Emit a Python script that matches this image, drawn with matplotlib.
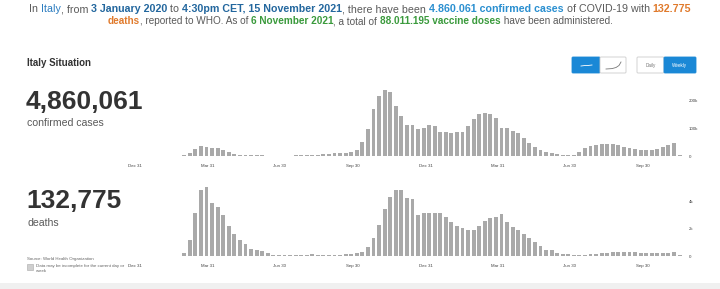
import matplotlib
matplotlib.use("Agg")
import matplotlib.pyplot as plt
import matplotlib.dates as mdates
import pandas as pd
from matplotlib.patches import FancyBboxPatch, Rectangle

plt.rcParams["font.family"] = ["Liberation Sans", "DejaVu Sans"]

# weekly series (WHO, Italy), first week starting 2 March 2020
first_week = "2020-03-02"
cases = [
    2000, 12000, 25000, 36000, 33000, 30000, 27000, 22000, 14000, 8000,
    5000, 4000, 3000, 2500, 2000, 1500, 1500, 1500, 1500, 1500,
    2000, 2000, 2500, 3000, 4500, 6000, 8000, 9000, 10000, 11000,
    14000, 22000, 50000, 97000, 168000, 216000, 236000, 230000, 179000, 142000,
    111000, 110000, 97000, 101000, 110000, 106000, 84000, 85000, 82000, 85000,
    86000, 108000, 133000, 151000, 152000, 150000, 134000, 101000, 100000, 88000,
    81000, 63000, 48000, 33000, 22000, 14000, 10000, 6000, 4000, 4000,
    5000, 13000, 27000, 36000, 40000, 42000, 42000, 42000, 38000, 32000,
    27000, 24000, 21000, 20000, 21000, 26000, 32000, 40000, 47000, 2000,
]
deaths = [
    200, 1200, 3200, 4900, 5100, 3900, 3600, 3000, 2200, 1600,
    1200, 860, 500, 420, 370, 200, 100, 70, 60, 50,
    50, 50, 60, 150, 60, 60, 70, 80, 100, 120,
    150, 200, 310, 690, 1300, 2300, 3500, 4350, 4900, 4900,
    4300, 4200, 3000, 3200, 3200, 3200, 3150, 2900, 2550, 2200,
    2050, 1900, 1900, 2200, 2600, 2800, 2900, 3100, 2500, 2150,
    1900, 1600, 1350, 1050, 740, 450, 450, 200, 150, 120,
    100, 100, 100, 120, 150, 220, 250, 260, 300, 300,
    290, 270, 230, 220, 220, 230, 240, 250, 300, 50,
]
tick_dates = ["2019-12-31", "2020-03-31", "2020-06-30", "2020-09-30",
              "2020-12-31", "2021-03-31", "2021-06-30", "2021-09-30"]
tick_labels = ["Dec 31", "Mar 31", "Jun 30", "Sep 30"] * 2
cases_ticks = [0, 100000, 200000]
cases_tick_labels = ["0", "100k", "200k"]
deaths_ticks = [0, 2000, 4000]
deaths_tick_labels = ["0", "2k", "4k"]
total_cases = "4,860,061"
total_deaths = "132,775"

GRAY = "#5a5a5a"
DARK = "#333333"
BLUE = "#2a8fd0"
NAVY = "#23679e"
ORANGE = "#e07a2c"
GREEN = "#3a9a3c"
BTN = "#1a88d6"
BAR = "#a9a9a9"

line1 = [
    ("In ", GRAY, "normal"), ("Italy", "#2b7cc0", "normal"), (", from ", GRAY, "normal"),
    ("3 January 2020", NAVY, "bold"), (" to ", GRAY, "normal"),
    ("4:30pm CET, 15 November 2021", NAVY, "bold"), (", there have been ", GRAY, "normal"),
    ("4.860.061 confirmed cases", BLUE, "bold"), (" of COVID-19 with ", GRAY, "normal"),
    ("132.775", ORANGE, "bold"),
]
line2 = [
    ("deaths", ORANGE, "bold"), (", reported to WHO. As of ", GRAY, "normal"),
    ("6 November 2021", GREEN, "bold"), (", a total of ", GRAY, "normal"),
    ("88.011.195 vaccine doses", GREEN, "bold"), (" have been administered.", GRAY, "normal"),
]

W, H = 720, 289
fig = plt.figure(figsize=(W / 100, H / 100), dpi=100)
fig.patch.set_facecolor("white")

# overlay in pixel coordinates for the page furniture
ov = fig.add_axes([0, 0, 1, 1])
ov.set_xlim(0, W)
ov.set_ylim(H, 0)
ov.axis("off")
renderer = fig.canvas.get_renderer()


def seg_width(s, size, weight):
    t1 = ov.text(0, 0, s + "|", fontsize=size, fontweight=weight)
    t2 = ov.text(0, 0, "|", fontsize=size, fontweight=weight)
    w = t1.get_window_extent(renderer).width - t2.get_window_extent(renderer).width
    t1.remove()
    t2.remove()
    return w


def rich_line(segs, y, target):
    base = 10
    size = base * target / sum(seg_width(s, base, wt) for s, _, wt in segs)
    widths = [seg_width(s, size, wt) for s, _, wt in segs]
    x = W / 2 - sum(widths) / 2
    for (s, c, wt), w in zip(segs, widths):
        ov.text(x, y, s, fontsize=size, fontweight=wt, color=c, va="center", ha="left")
        x += w


rich_line(line1, 9, 660)
rich_line(line2, 21, 510)

ov.text(27, 63, "Italy Situation", fontsize=7, fontweight="bold", color=DARK, va="center")
ov.text(26, 102, total_cases, fontsize=19, fontweight="bold", color=DARK, va="center")
ov.text(27, 123, "confirmed cases", fontsize=7.6, color=GRAY, va="center")
ov.text(26, 201, total_deaths, fontsize=19, fontweight="bold", color=DARK, va="center")
ov.text(27, 223, "deaths", fontsize=7.6, color=GRAY, va="center")
ov.text(27, 259, "Source: World Health Organization", fontsize=3.2, color="#666666", va="center")
ov.add_patch(Rectangle((27, 264), 6, 6, facecolor="#cfcfcf", edgecolor="#aaaaaa", lw=0.4))
ov.text(36, 266, "Data may be incomplete for the current day or", fontsize=3.2, color="#666666", va="center")
ov.text(36, 271, "week", fontsize=3.2, color="#666666", va="center")

# toggle buttons
for x0, x1, filled in [(572, 600, True), (600, 626, False), (637, 664, False), (664, 696, True)]:
    ov.add_patch(FancyBboxPatch((x0, 57), x1 - x0, 16, boxstyle="round,pad=0,rounding_size=1",
                                facecolor=BTN if filled else "white",
                                edgecolor=BTN if filled else "#cccccc", lw=0.6))
ov.plot([581, 585, 588, 592], [66, 65.5, 65.5, 65], color="white", lw=0.6)
ov.plot([606, 612, 616, 619, 621], [69, 68.6, 67.5, 65.5, 62], color="#777777", lw=0.6)
ov.text(650.5, 65, "Daily", fontsize=3.3, color="#777777", ha="center", va="center")
ov.text(680, 65, "Weekly", fontsize=3.3, color="white", ha="center", va="center")

# bottom shading of the screenshot
ov.add_patch(Rectangle((0, 283), W, 6, facecolor="#f0f0f0", edgecolor="none"))

weeks = pd.date_range(first_week, periods=len(cases), freq="7D")
d0 = mdates.date2num(pd.Timestamp("2019-12-31"))
px_day = 0.795
ax_x0, ax_x1 = 128, 682


def chart(top, bottom, values, ymax, yticks, ylabels):
    ax = fig.add_axes([ax_x0 / W, 1 - bottom / H, (ax_x1 - ax_x0) / W, (bottom - top) / H])
    ax.bar(weeks, values, width=4.9, color=BAR, linewidth=0)
    ax.set_xlim(d0 + (ax_x0 - 135) / px_day, d0 + (ax_x1 - 135) / px_day)
    ax.set_ylim(0, ymax)
    ax.set_xticks(mdates.date2num(pd.to_datetime(tick_dates)))
    ax.set_xticklabels(tick_labels)
    ax.set_yticks(yticks)
    ax.set_yticklabels(ylabels)
    ax.yaxis.tick_right()
    ax.tick_params(axis="both", length=0, labelsize=3.2, labelcolor="#444444")
    ax.tick_params(axis="x", pad=6)
    ax.tick_params(axis="y", pad=5)
    for s in ax.spines.values():
        s.set_visible(False)
    ax.patch.set_alpha(0)
    return ax


chart(86, 156, cases, 250000, cases_ticks, cases_tick_labels)
chart(182, 256, deaths, 5480, deaths_ticks, deaths_tick_labels)

fig.savefig("out.png", dpi=100)
